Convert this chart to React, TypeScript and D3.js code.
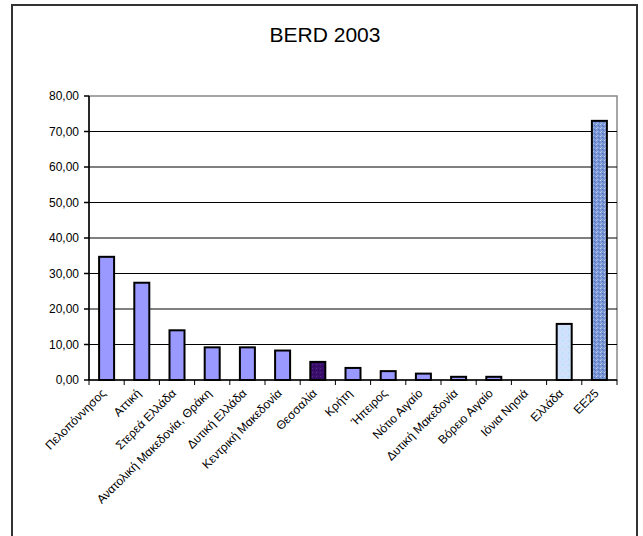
import React from "react";
import * as d3 from "d3";

const categories = [
  "Πελοπόννησος",
  "Αττική",
  "Στερεά Ελλάδα",
  "Ανατολική Μακεδονία, Θράκη",
  "Δυτική Ελλάδα",
  "Κεντρική Μακεδονία",
  "Θεσσαλία",
  "Κρήτη",
  "Ήπειρος",
  "Νότιο Αιγαίο",
  "Δυτική Μακεδονία",
  "Βόρειο Αιγαίο",
  "Ιόνια Νησιά",
  "Ελλάδα",
  "ΕΕ25",
];
const values = [34.7, 27.4, 14.0, 9.2, 9.2, 8.3, 5.1, 3.4, 2.5, 1.8, 0.9, 0.9, 0, 15.8, 73.0];
const barFills = [
  "#9999FF", "#9999FF", "#9999FF", "#9999FF", "#9999FF", "#9999FF",
  "url(#purplePat)", "#9999FF", "#9999FF", "#9999FF", "#9999FF", "#9999FF",
  "#9999FF", "url(#lightPat)", "url(#bluePat)",
];
const yTicks = [0, 10, 20, 30, 40, 50, 60, 70, 80];
const title = "BERD 2003";

export default function App() {
  const W = 643, H = 536;
  const left = 89, right = 617, top = 96, bottom = 380;
  const x = d3.scaleBand<string>().domain(categories).range([left, right]).paddingInner(0).paddingOuter(0);
  const y = d3.scaleLinear().domain([0, 80]).range([bottom, top]);
  const bw = 15;
  const fmt = (v: number) => v.toFixed(2).replace(".", ",");
  const font = "Arial, 'Liberation Sans', sans-serif";
  return (
    <svg width={W} height={H} style={{ position: "absolute", left: 0, top: 0, background: "#fff" }} fontFamily={font}>
      <defs>
        <pattern id="purplePat" width="4" height="4" patternUnits="userSpaceOnUse">
          <rect width="4" height="4" fill="#3a0f6b" />
          <rect x="0" y="0" width="1" height="1" fill="#5a2a8a" />
          <rect x="2" y="2" width="1" height="1" fill="#2a0555" />
        </pattern>
        <pattern id="lightPat" width="6" height="6" patternUnits="userSpaceOnUse">
          <rect width="6" height="6" fill="#cfe2fb" />
          <rect x="1" y="1" width="2" height="1" fill="#dcd4f8" />
          <rect x="4" y="4" width="1" height="2" fill="#bcdcf5" />
        </pattern>
        <pattern id="bluePat" width="4" height="4" patternUnits="userSpaceOnUse">
          <rect width="4" height="4" fill="#7d98d6" />
          <rect x="0" y="0" width="1" height="1" fill="#c4d2f0" />
          <rect x="2" y="1" width="1" height="1" fill="#4d6db8" />
          <rect x="1" y="3" width="1" height="1" fill="#a8bce8" />
          <rect x="3" y="2" width="1" height="1" fill="#5a78c0" />
        </pattern>
      </defs>
      <rect x={12} y={5} width={625} height={540} fill="#fff" stroke="#333" strokeWidth={2} />
      <text x={325} y={41.5} textAnchor="middle" fontSize={21} fill="#000">{title}</text>
      {/* plot border */}
      <rect x={left} y={top} width={right - left} height={bottom - top} fill="none" stroke="#888" strokeWidth={1.5} />
      {yTicks.map((t) => (
        <g key={t}>
          {t > 0 && t < 80 && (
            <line x1={left} x2={right} y1={y(t)} y2={y(t)} stroke="#000" strokeWidth={1} />
          )}
          <line x1={left - 5} x2={left} y1={y(t)} y2={y(t)} stroke="#000" strokeWidth={1.5} />
          <text x={left - 10} y={y(t)} dy="0.35em" textAnchor="end" fontSize={12} fill="#000">{fmt(t)}</text>
        </g>
      ))}
      {values.map((v, i) => {
        const cx = (x(categories[i]) as number) + x.bandwidth() / 2;
        if (v <= 0) return null;
        return (
          <rect key={i} x={cx - bw / 2} y={y(v)} width={bw} height={bottom - y(v)}
            fill={barFills[i]} stroke="#000" strokeWidth={2} />
        );
      })}
      <line x1={left} x2={left} y1={top} y2={bottom} stroke="#000" strokeWidth={1.5} />
      <line x1={left} x2={right} y1={bottom} y2={bottom} stroke="#000" strokeWidth={1.5} />
      {categories.map((c, i) => {
        const x0 = x(c) as number;
        return <line key={"t" + i} x1={x0} x2={x0} y1={bottom} y2={bottom + 5} stroke="#000" strokeWidth={1} />;
      })}
      <line x1={right} x2={right} y1={bottom} y2={bottom + 5} stroke="#000" strokeWidth={1} />
      {categories.map((c, i) => {
        const cx = (x(c) as number) + x.bandwidth() / 2;
        return (
          <text key={"l" + i} transform={`translate(${cx - 3},${bottom + 11}) rotate(-45)`}
            textAnchor="end" dy="0.35em" fontSize={12} fill="#000">{c}</text>
        );
      })}
    </svg>
  );
}
